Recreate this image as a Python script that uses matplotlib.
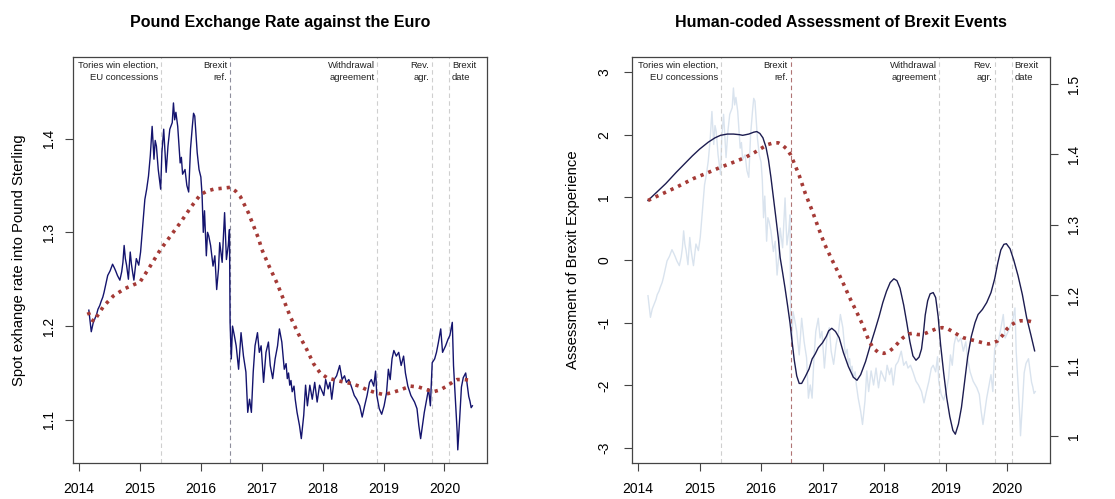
import numpy as np
import matplotlib
matplotlib.use("Agg")
import matplotlib.pyplot as plt

plt.rcParams['font.family'] = ['Liberation Sans', 'DejaVu Sans']
plt.rcParams['axes.unicode_minus'] = False

# pound / euro spot rate
fx_year = [2014.16, 2014.18, 2014.20, 2014.23, 2014.26, 2014.29, 2014.31, 2014.34, 2014.36, 2014.39,
           2014.41, 2014.44, 2014.47, 2014.51, 2014.55, 2014.58, 2014.60, 2014.63, 2014.67, 2014.70,
           2014.72, 2014.74, 2014.76, 2014.78, 2014.81, 2014.84, 2014.86, 2014.88, 2014.90, 2014.94,
           2014.98, 2015.01, 2015.03, 2015.05, 2015.08, 2015.11, 2015.14, 2015.17, 2015.20, 2015.23,
           2015.25, 2015.27, 2015.30, 2015.34, 2015.36, 2015.39, 2015.43, 2015.46, 2015.49, 2015.53,
           2015.55, 2015.57, 2015.59, 2015.62, 2015.66, 2015.68, 2015.70, 2015.74, 2015.77, 2015.80,
           2015.83, 2015.86, 2015.88, 2015.90, 2015.94, 2015.97, 2016.00, 2016.02, 2016.04, 2016.06,
           2016.09, 2016.11, 2016.13, 2016.16, 2016.20, 2016.23, 2016.26, 2016.29, 2016.31, 2016.35,
           2016.39, 2016.42, 2016.45, 2016.47, 2016.48, 2016.50, 2016.52, 2016.55, 2016.58, 2016.62,
           2016.66, 2016.70, 2016.74, 2016.77, 2016.80, 2016.83, 2016.86, 2016.89, 2016.93, 2016.96,
           2016.99, 2017.03, 2017.07, 2017.11, 2017.14, 2017.18, 2017.22, 2017.26, 2017.29, 2017.33,
           2017.37, 2017.40, 2017.42, 2017.44, 2017.46, 2017.48, 2017.50, 2017.53, 2017.55, 2017.58,
           2017.62, 2017.65, 2017.69, 2017.72,
           2017.75, 2017.79, 2017.83, 2017.87, 2017.91, 2017.95, 2018.02, 2018.05, 2018.09, 2018.12,
           2018.15, 2018.19, 2018.23, 2018.28, 2018.32, 2018.36, 2018.39, 2018.43, 2018.47, 2018.52,
           2018.56, 2018.61, 2018.65, 2018.69, 2018.73, 2018.77, 2018.80, 2018.84, 2018.87, 2018.89,
           2018.93, 2018.97, 2019.01, 2019.05, 2019.08, 2019.11, 2019.14, 2019.17, 2019.21, 2019.25,
           2019.29, 2019.33, 2019.36, 2019.40, 2019.45, 2019.51, 2019.55, 2019.58, 2019.61, 2019.64,
           2019.67, 2019.71, 2019.74, 2019.77, 2019.80, 2019.84, 2019.87, 2019.90, 2019.94, 2019.97,
           2020.02, 2020.06, 2020.09, 2020.13, 2020.15, 2020.18, 2020.21, 2020.22, 2020.25, 2020.28,
           2020.31, 2020.35, 2020.38, 2020.40, 2020.42, 2020.44, 2020.46]
fx_rate = [1.217, 1.205, 1.194, 1.203, 1.208, 1.213, 1.218, 1.222, 1.226, 1.231,
           1.236, 1.245, 1.254, 1.259, 1.266, 1.262, 1.259, 1.254, 1.249, 1.258,
           1.268, 1.286, 1.272, 1.265, 1.250, 1.279, 1.266, 1.257, 1.249, 1.272,
           1.265, 1.279, 1.295, 1.311, 1.335, 1.346, 1.360, 1.382, 1.413, 1.378,
           1.398, 1.392, 1.367, 1.346, 1.385, 1.410, 1.364, 1.392, 1.410, 1.417,
           1.438, 1.420, 1.428, 1.413, 1.374, 1.380, 1.362, 1.367, 1.350, 1.343,
           1.389, 1.413, 1.427, 1.424, 1.385, 1.367, 1.359, 1.340, 1.300, 1.323,
           1.275, 1.300, 1.296, 1.286, 1.264, 1.275, 1.239, 1.261, 1.289, 1.268,
           1.321, 1.271, 1.286, 1.303, 1.204, 1.165, 1.200, 1.190, 1.179, 1.154,
           1.193, 1.168, 1.151, 1.108, 1.122, 1.108, 1.151, 1.179, 1.193, 1.172,
           1.179, 1.140, 1.172, 1.183, 1.158, 1.144, 1.165, 1.179, 1.197, 1.183,
           1.154, 1.160, 1.144, 1.150, 1.137, 1.142, 1.130, 1.136, 1.122, 1.108,
           1.094, 1.080, 1.105, 1.137,
           1.115, 1.137, 1.122, 1.140, 1.119, 1.137, 1.126, 1.143, 1.133, 1.140,
           1.122, 1.143, 1.147, 1.158, 1.143, 1.147, 1.140, 1.143, 1.136, 1.126,
           1.122, 1.115, 1.103, 1.115, 1.126, 1.140, 1.143, 1.136, 1.152, 1.126,
           1.112, 1.106, 1.115, 1.129, 1.154, 1.143, 1.165, 1.174, 1.168, 1.172,
           1.158, 1.168, 1.150, 1.136, 1.126, 1.119, 1.112, 1.094, 1.080, 1.094,
           1.108, 1.122, 1.133, 1.115, 1.161, 1.165, 1.172, 1.182, 1.197, 1.172,
           1.179, 1.186, 1.190, 1.204, 1.158, 1.122, 1.087, 1.068, 1.100, 1.135,
           1.145, 1.150, 1.135, 1.125, 1.120, 1.113, 1.115]

# smoothed rate (red dotted, left panel)
fx_smooth_year = [2014.15, 2014.20, 2014.25, 2014.29, 2014.40, 2014.56, 2014.75, 2015.00, 2015.15, 2015.33,
                  2015.50, 2015.66, 2015.85, 2015.99, 2016.10, 2016.21, 2016.35, 2016.48, 2016.57, 2016.65,
                  2016.78, 2016.95, 2017.00, 2017.12, 2017.25, 2017.36, 2017.47, 2017.60, 2017.74, 2017.85,
                  2017.96, 2018.07, 2018.18, 2018.30, 2018.45, 2018.60, 2018.73, 2018.87, 2019.00, 2019.14,
                  2019.28, 2019.44, 2019.58, 2019.72, 2019.82, 2019.93, 2020.04, 2020.13, 2020.21, 2020.33,
                  2020.45]
fx_smooth = [1.215, 1.207, 1.205, 1.210, 1.221, 1.232, 1.240, 1.247, 1.262, 1.281,
             1.296, 1.310, 1.328, 1.340, 1.344, 1.346, 1.347, 1.348, 1.344, 1.338,
             1.321, 1.293, 1.282, 1.264, 1.246, 1.228, 1.210, 1.192, 1.175, 1.160,
             1.150, 1.145, 1.143, 1.141, 1.139, 1.136, 1.132, 1.129, 1.127, 1.129,
             1.132, 1.136, 1.135, 1.132, 1.130, 1.132, 1.136, 1.140, 1.143, 1.143,
             1.142]

# human-coded assessment (dark line, right panel)
assess_year = [2014.16, 2014.30, 2014.45, 2014.62, 2014.75, 2014.88, 2015.00, 2015.14, 2015.25, 2015.34,
               2015.45, 2015.55, 2015.65, 2015.70, 2015.80, 2015.88, 2015.93, 2015.98, 2016.03, 2016.08,
               2016.12, 2016.16, 2016.20, 2016.24, 2016.28, 2016.31, 2016.35, 2016.39, 2016.43, 2016.47,
               2016.51, 2016.54, 2016.58, 2016.62, 2016.66, 2016.72, 2016.78, 2016.83, 2016.88, 2016.93,
               2017.00, 2017.06, 2017.10, 2017.15, 2017.21, 2017.27, 2017.34, 2017.42, 2017.50, 2017.56,
               2017.62, 2017.70, 2017.78, 2017.85, 2017.92, 2017.98, 2018.04, 2018.10, 2018.16, 2018.21,
               2018.26, 2018.32, 2018.37, 2018.42, 2018.47, 2018.52, 2018.57, 2018.61, 2018.64, 2018.67,
               2018.71, 2018.75, 2018.80, 2018.84, 2018.88, 2018.92, 2018.97, 2019.02, 2019.07, 2019.12,
               2019.16, 2019.21, 2019.26, 2019.31, 2019.36, 2019.42, 2019.48, 2019.53, 2019.60, 2019.67,
               2019.74, 2019.80, 2019.85, 2019.90, 2019.95, 2019.99, 2020.05, 2020.11, 2020.18, 2020.25,
               2020.32, 2020.39, 2020.45]
assess = [0.95, 1.08, 1.22, 1.40, 1.53, 1.66, 1.77, 1.88, 1.95, 1.99,
          2.01, 2.01, 2.00, 1.99, 2.01, 2.04, 2.05, 2.02, 1.95, 1.80,
          1.60, 1.32, 1.00, 0.68, 0.35, 0.04, -0.20, -0.45, -0.72, -1.00,
          -1.35, -1.60, -1.85, -1.97, -1.97, -1.86, -1.74, -1.58, -1.50, -1.40,
          -1.32, -1.22, -1.13, -1.09, -1.14, -1.24, -1.48, -1.70, -1.87, -1.92,
          -1.83, -1.62, -1.35, -1.13, -0.90, -0.68, -0.50, -0.36, -0.30, -0.33,
          -0.45, -0.72, -1.00, -1.30, -1.53, -1.60, -1.55, -1.42, -1.18, -0.88,
          -0.65, -0.54, -0.52, -0.60, -0.90, -1.35, -1.80, -2.20, -2.50, -2.72,
          -2.78, -2.62, -2.35, -1.95, -1.55, -1.22, -1.00, -0.87, -0.79, -0.68,
          -0.52, -0.30, -0.05, 0.16, 0.25, 0.26, 0.18, 0.00, -0.25, -0.55,
          -0.92, -1.20, -1.45]

# smoothed assessment (red dotted, right panel)
assess_smooth_year = [2014.16, 2014.40, 2014.62, 2014.90, 2015.10, 2015.34, 2015.55, 2015.75, 2015.90, 2016.00,
                      2016.10, 2016.20, 2016.28, 2016.35, 2016.42, 2016.48, 2016.55, 2016.62, 2016.72, 2016.83,
                      2016.93, 2017.03, 2017.14, 2017.24, 2017.34, 2017.44, 2017.55, 2017.65, 2017.75, 2017.82,
                      2017.90, 2018.00, 2018.08, 2018.16, 2018.24, 2018.31, 2018.40, 2018.47, 2018.55, 2018.62,
                      2018.70, 2018.77, 2018.87, 2018.95, 2019.04, 2019.13, 2019.21, 2019.29, 2019.40, 2019.49,
                      2019.60, 2019.70, 2019.78, 2019.85, 2019.93, 2020.00, 2020.08, 2020.15, 2020.22, 2020.30,
                      2020.38, 2020.45]
assess_smooth = [0.95, 1.06, 1.16, 1.30, 1.38, 1.48, 1.56, 1.64, 1.72, 1.78,
                 1.84, 1.87, 1.87, 1.83, 1.77, 1.68, 1.52, 1.35, 1.06, 0.79,
                 0.52, 0.26, 0.03, -0.17, -0.38, -0.60, -0.82, -1.03, -1.28, -1.40,
                 -1.47, -1.49, -1.46, -1.40, -1.31, -1.24, -1.18, -1.17, -1.19, -1.19,
                 -1.16, -1.13, -1.09, -1.08, -1.10, -1.15, -1.20, -1.24, -1.27, -1.29,
                 -1.32, -1.34, -1.32, -1.29, -1.20, -1.10, -1.03, -0.99, -0.97, -0.97,
                 -0.98, -1.00]

event_year = [2015.35, 2016.48, 2018.9, 2019.8, 2020.08]
event_text = ["Tories win election,\nEU concessions", "Brexit\nref.", "Withdrawal\nagreement",
              "Rev.\nagr.", "Brexit\ndate"]

years = [2014, 2015, 2016, 2017, 2018, 2019, 2020]

fig = plt.figure(figsize=(11.15, 4.99), dpi=100)
ax1 = fig.add_axes([73/1115, 36/499, 414/1115, 406/499])
ax2 = fig.add_axes([632/1115, 36/499, 418/1115, 406/499])

navy = '#14146e'
red = '#a53a36'


def style_axes(ax):
    for s in ax.spines.values():
        s.set_color('#444444')
        s.set_linewidth(0.9)
    ax.tick_params(direction='out', length=6, width=0.8, color='#444444', labelsize=10)
    ax.tick_params(axis='x', pad=8)
    ax.tick_params(axis='y', pad=6)
    ax.set_xlim(2013.9, 2020.7)
    ax.set_xticks(years)
    plt.setp(ax.get_yticklabels(), rotation=90, va='center')


def add_events(ax, ref_color):
    for i, (yr, lab) in enumerate(zip(event_year, event_text)):
        col = ref_color if i == 1 else '#cfcfcf'
        ax.axvline(yr, color=col, lw=0.8, ls=(0, (4, 3)), zorder=1)
        if i == len(event_year) - 1:
            ax.annotate(lab, xy=(yr, 1), xycoords=('data', 'axes fraction'), xytext=(2, -3),
                        textcoords='offset points', ha='left', va='top', fontsize=6.8,
                        linespacing=1.35, color='#222222')
        else:
            ax.annotate(lab, xy=(yr, 1), xycoords=('data', 'axes fraction'), xytext=(-2, -3),
                        textcoords='offset points', ha='right', va='top', fontsize=6.8,
                        linespacing=1.35, color='#222222', multialignment='right')


# left panel
add_events(ax1, '#8e8e9c')
ax1.plot(fx_year, fx_rate, color=navy, lw=1.0, zorder=3)
ax1.plot(fx_smooth_year, fx_smooth, color=red, lw=2.6, ls=(0, (0.9, 1.4)), zorder=4)
ax1.set_ylim(1.054, 1.487)
ax1.set_yticks([1.1, 1.2, 1.3, 1.4])
ax1.set_yticklabels(['1.1', '1.2', '1.3', '1.4'])
style_axes(ax1)
ax1.set_ylabel('Spot exhange rate into Pound Sterling', fontsize=10.7, labelpad=12)
ax1.text(0.5, 1.086, 'Pound Exchange Rate against the Euro', transform=ax1.transAxes,
         ha='center', va='center', fontsize=11.5, fontweight='bold')

# right panel: faint pound series behind, on its own hidden scale
ax2_fx = ax2.twinx()
ax2_fx.set_ylim(1.039, 1.471)
ax2_fx.axis('off')
ax2_fx.plot(fx_year, fx_rate, color='#d9e3ee', lw=1.0)

ax2.set_zorder(ax2_fx.get_zorder() + 1)
ax2.patch.set_visible(False)
add_events(ax2, '#b07474')
ax2.plot(assess_year, assess, color='#1c1c50', lw=1.0, zorder=3)
ax2.plot(assess_smooth_year, assess_smooth, color=red, lw=2.6, ls=(0, (0.9, 1.4)), zorder=4)
ax2.set_ylim(-3.24, 3.24)
ax2.set_yticks([-3, -2, -1, 0, 1, 2, 3])
ax2.set_yticklabels(['-3', '-2', '-1', '0', '1', '2', '3'])
style_axes(ax2)
ax2.tick_params(axis='y', pad=9)
ax2.set_ylabel('Assessment of Brexit Experience', fontsize=10.7, labelpad=12)
ax2.text(0.5, 1.086, 'Human-coded Assessment of Brexit Events', transform=ax2.transAxes,
         ha='center', va='center', fontsize=11.5, fontweight='bold')

ax2_r = ax2.twinx()
ax2_r.set_ylim(0.9615, 1.5385)
ax2_r.set_yticks([1.0, 1.1, 1.2, 1.3, 1.4, 1.5])
ax2_r.set_yticklabels(['1', '1.1', '1.2', '1.3', '1.4', '1.5'])
ax2_r.tick_params(direction='out', length=6, width=0.8, color='#444444', labelsize=10, pad=6)
plt.setp(ax2_r.get_yticklabels(), rotation=90, va='center')
for s in ax2_r.spines.values():
    s.set_visible(False)

fig.savefig('out.png', dpi=100)
